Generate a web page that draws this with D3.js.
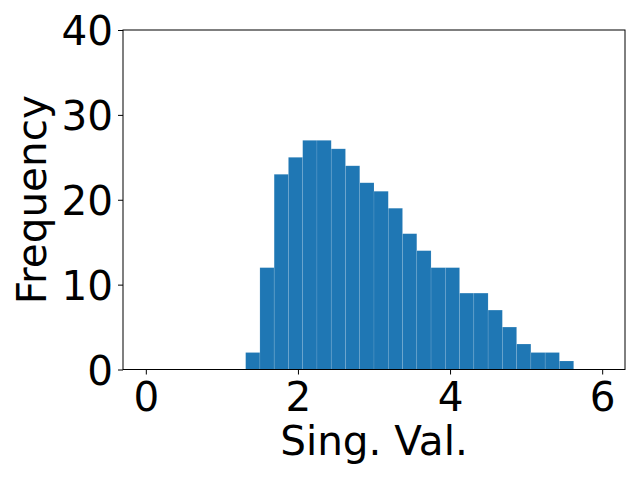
<!DOCTYPE html>
<html>
<head>
<meta charset="utf-8">
<script src="https://cdn.jsdelivr.net/npm/d3@7"></script>
<style>
  html, body { margin: 0; padding: 0; background: #ffffff; }
  svg { display: block; }
  text { font-family: "DejaVu Sans", sans-serif; fill: #000; }
</style>
</head>
<body>
<svg id="chart" width="640" height="480"></svg>
<script>
// Histogram: 32 equal bins over [0, 6]
const binStart = 0;
const binEnd = 6;
const counts = [0, 0, 0, 0, 0, 0, 0, 2, 12, 23, 25, 27, 27, 26, 24, 22, 21, 19, 16, 14, 12, 12, 9, 9, 7, 5, 3, 2, 2, 1, 0, 0];
const xTicks = [0, 2, 4, 6];
const yTicks = [0, 10, 20, 30, 40];
const xLabel = "Sing. Val.";
const yLabel = "Frequency";

const W = 640, H = 480;
const m = { left: 123, right: 625, top: 30, bottom: 369.5 };
const fs = 40.5;

const svg = d3.select("#chart");
const binW = (binEnd - binStart) / counts.length;
const bins = counts.map((c, i) => ({ x0: binStart + i * binW, x1: binStart + (i + 1) * binW, c }));

const pad = 0.05 * (binEnd - binStart);
const x = d3.scaleLinear().domain([binStart - pad, binEnd + pad]).range([m.left, m.right]);
const y = d3.scaleLinear().domain([0, 40]).range([m.bottom, m.top]);

// bars
svg.append("g").selectAll("rect").data(bins.filter(d => d.c > 0)).join("rect")
  .attr("x", d => x(d.x0))
  .attr("y", d => y(d.c))
  .attr("width", d => x(d.x1) - x(d.x0))
  .attr("height", d => y(0) - y(d.c))
  .attr("fill", "#1f77b4")
  .attr("stroke", "rgba(255,255,255,0.18)")
  .attr("stroke-width", 0.6);

// frame
svg.append("rect")
  .attr("x", m.left).attr("y", m.top)
  .attr("width", m.right - m.left).attr("height", m.bottom - m.top)
  .attr("fill", "none").attr("stroke", "#000").attr("stroke-width", 1);

// x axis
const gx = svg.append("g").attr("transform", `translate(0,${m.bottom})`)
  .call(d3.axisBottom(x).tickValues(xTicks).tickFormat(d3.format("d")).tickSize(5).tickPadding(8));
gx.select(".domain").remove();
gx.selectAll("line").attr("stroke", "#000");
gx.selectAll("text").attr("font-size", fs).attr("font-family", "DejaVu Sans").attr("fill", "#000")
  .attr("dy", null).attr("y", 41);

// y axis
const gy = svg.append("g").attr("transform", `translate(${m.left},0)`)
  .call(d3.axisLeft(y).tickValues(yTicks).tickFormat(d3.format("d")).tickSize(5).tickPadding(8));
gy.select(".domain").remove();
gy.selectAll("line").attr("stroke", "#000");
gy.selectAll("text").attr("font-size", fs).attr("font-family", "DejaVu Sans").attr("fill", "#000")
  .attr("dy", null).attr("y", 14.5).attr("x", -10);

// labels
svg.append("text").attr("x", (m.left + m.right) / 2).attr("y", 455)
  .attr("text-anchor", "middle").attr("font-size", fs).text(xLabel);
svg.append("text").attr("transform", `translate(46,${(m.top + m.bottom) / 2}) rotate(-90)`)
  .attr("text-anchor", "middle").attr("font-size", fs).text(yLabel);
</script>
</body>
</html>
